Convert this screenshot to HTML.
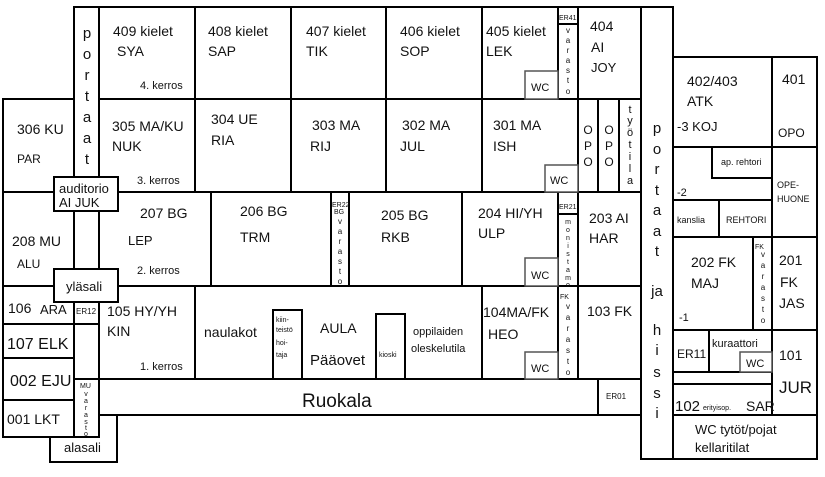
<!DOCTYPE html>
<html><head><meta charset="utf-8"><style>
html,body{margin:0;padding:0;background:#fff;}
svg{display:block;}
text{font-family:"Liberation Sans",sans-serif;fill:#111;}
</style></head><body>
<svg width="825" height="477" viewBox="0 0 825 477" xmlns="http://www.w3.org/2000/svg">
<g fill="none" stroke="#000" stroke-width="2">
<rect x="74" y="7" width="25" height="185"/>
<rect x="99" y="7" width="96" height="92"/>
<rect x="195" y="7" width="96" height="92"/>
<rect x="291" y="7" width="95" height="92"/>
<rect x="386" y="7" width="96" height="92"/>
<rect x="482" y="7" width="76" height="92"/>
<rect x="558" y="7" width="20" height="92"/>
<line x1="558" y1="24" x2="578" y2="24"/>
<rect x="578" y="7" width="63" height="92"/>
<rect x="641" y="7" width="32" height="452"/>
<rect x="3" y="99" width="71" height="93"/>
<rect x="99" y="99" width="96" height="93"/>
<rect x="195" y="99" width="96" height="93"/>
<rect x="291" y="99" width="95" height="93"/>
<rect x="386" y="99" width="96" height="93"/>
<rect x="482" y="99" width="96" height="93"/>
<rect x="578" y="99" width="20" height="93"/>
<rect x="598" y="99" width="21" height="93"/>
<rect x="619" y="99" width="22" height="93"/>
<rect x="673" y="57" width="99" height="90"/>
<rect x="772" y="57" width="45" height="90"/>
<rect x="673" y="147" width="99" height="53"/>
<rect x="772" y="147" width="45" height="90"/>
<rect x="673" y="200" width="46" height="37"/>
<rect x="719" y="200" width="53" height="37"/>
<rect x="673" y="237" width="80" height="93"/>
<rect x="753" y="237" width="19" height="93"/>
<rect x="772" y="237" width="45" height="93"/>
<rect x="673" y="330" width="36" height="42"/>
<rect x="709" y="330" width="63" height="42"/>
<rect x="673" y="372" width="99" height="12"/>
<rect x="673" y="384" width="99" height="31"/>
<rect x="772" y="330" width="45" height="85"/>
<rect x="673" y="415" width="144" height="44"/>
<rect x="3" y="192" width="71" height="94"/>
<rect x="74" y="192" width="25" height="94"/>
<rect x="99" y="192" width="112" height="94"/>
<rect x="211" y="192" width="120" height="94"/>
<rect x="331" y="192" width="18" height="94"/>
<rect x="349" y="192" width="113" height="94"/>
<rect x="462" y="192" width="96" height="94"/>
<rect x="558" y="192" width="20" height="94"/>
<line x1="558" y1="214" x2="578" y2="214"/>
<rect x="578" y="192" width="63" height="94"/>
<rect x="3" y="286" width="71" height="38"/>
<rect x="3" y="324" width="71" height="34"/>
<rect x="3" y="358" width="71" height="42"/>
<rect x="3" y="400" width="71" height="37"/>
<rect x="74" y="286" width="25" height="38"/>
<rect x="74" y="324" width="25" height="55"/>
<rect x="74" y="379" width="25" height="58"/>
<rect x="99" y="286" width="96" height="93"/>
<rect x="195" y="286" width="287" height="93"/>
<rect x="482" y="286" width="76" height="93"/>
<rect x="558" y="286" width="20" height="93"/>
<rect x="578" y="286" width="63" height="93"/>
<rect x="99" y="379" width="542" height="36"/>
<line x1="598" y1="379" x2="598" y2="415"/>
<polyline points="99,437 50,437 50,462 117,462 117,415"/>
<rect x="273" y="310" width="29" height="69"/>
<rect x="376" y="314" width="29" height="65"/>
</g>
<g fill="#fff" stroke="#000" stroke-width="2">
<rect x="54" y="177" width="64" height="34"/>
<rect x="54" y="269" width="64" height="33"/>
<rect x="712" y="147" width="60" height="31"/>
</g>
<g fill="#fff" stroke="#555" stroke-width="1.5">
<rect x="525" y="71" width="33" height="28"/>
<rect x="545" y="165" width="33" height="27"/>
<rect x="525" y="258" width="33" height="28"/>
<rect x="525" y="352" width="33" height="27"/>
<rect x="740" y="352" width="32" height="20"/>
</g>
<g font-size="14">
<text x="113" y="36">409 kielet</text><text x="117" y="56">SYA</text>
<text x="140" y="89" font-size="11">4. kerros</text>
<text x="208" y="36">408 kielet</text><text x="208" y="56">SAP</text>
<text x="306" y="36">407 kielet</text><text x="306" y="56">TIK</text>
<text x="400" y="36">406 kielet</text><text x="400" y="56">SOP</text>
<text x="486" y="36">405 kielet</text><text x="486" y="56">LEK</text>
<text x="531" y="91" font-size="11">WC</text>
<text x="590" y="31">404</text><text x="591" y="52">AI</text><text x="591" y="72" font-size="13">JOY</text>
<text x="17" y="134">306 KU</text><text x="17" y="163" font-size="12">PAR</text>
<text x="112" y="131">305 MA/KU</text><text x="112" y="151">NUK</text>
<text x="137" y="184" font-size="11">3. kerros</text>
<text x="211" y="124">304 UE</text><text x="211" y="145">RIA</text>
<text x="312" y="130">303 MA</text><text x="310" y="151">RIJ</text>
<text x="402" y="130">302 MA</text><text x="400" y="151">JUL</text>
<text x="493" y="130">301 MA</text><text x="493" y="151">ISH</text>
<text x="550" y="184" font-size="11">WC</text>
<text x="687" y="86">402/403</text><text x="687" y="106">ATK</text>
<text x="677" y="131" font-size="13">-3  KOJ</text>
<text x="782" y="84">401</text><text x="778" y="137" font-size="12">OPO</text>
<text x="721" y="165" font-size="9">ap. rehtori</text>
<text x="677" y="196" font-size="11">-2</text>
<text x="777" y="188" font-size="9">OPE-</text><text x="777" y="202" font-size="9">HUONE</text>
<text x="677" y="223" font-size="9">kanslia</text><text x="726" y="223" font-size="9">REHTORI</text>
<text x="59" y="193" font-size="13">auditorio</text><text x="59" y="207" font-size="13">AI  JUK</text>
<text x="140" y="218">207 BG</text><text x="128" y="245" font-size="13">LEP</text>
<text x="137" y="274" font-size="11">2. kerros</text>
<text x="240" y="216">206 BG</text><text x="240" y="242">TRM</text>
<text x="381" y="220">205 BG</text><text x="381" y="242">RKB</text>
<text x="478" y="218">204 HI/YH</text><text x="478" y="238">ULP</text>
<text x="531" y="279" font-size="11">WC</text>
<text x="589" y="223">203 AI</text><text x="589" y="243">HAR</text>
<text x="12" y="246">208 MU</text><text x="17" y="268" font-size="12">ALU</text>
<text x="66" y="291" font-size="13">yläsali</text>
<text x="8" y="313">106</text><text x="40" y="314" font-size="13">ARA</text>
<text x="76" y="314" font-size="8">ER12</text>
<text x="7" y="349" font-size="16">107 ELK</text>
<text x="10" y="386" font-size="16">002 EJU</text>
<text x="7" y="424">001 LKT</text>
<text x="107" y="316">105 HY/YH</text><text x="107" y="336">KIN</text>
<text x="140" y="370" font-size="11">1. kerros</text>
<text x="204" y="337">naulakot</text>
<text x="320" y="333">AULA</text>
<text x="310" y="365" font-size="15">Pääovet</text>
<text x="413" y="335" font-size="11">oppilaiden</text><text x="411" y="352" font-size="11">oleskelutila</text>
<text x="483" y="317">104MA/FK</text><text x="488" y="339">HEO</text>
<text x="531" y="372" font-size="11">WC</text>
<text x="587" y="316">103 FK</text>
<text x="302" y="407" font-size="19">Ruokala</text>
<text x="606" y="399" font-size="8">ER01</text>
<text x="64" y="452" font-size="13">alasali</text>
<text x="691" y="267">202 FK</text><text x="691" y="288">MAJ</text>
<text x="679" y="321" font-size="11">-1</text>
<text x="779" y="265">201</text><text x="780" y="287">FK</text><text x="779" y="308">JAS</text>
<text x="677" y="358" font-size="12">ER11</text>
<text x="712" y="347" font-size="11">kuraattori</text>
<text x="746" y="367" font-size="11">WC</text>
<text x="779" y="360">101</text><text x="779" y="393" font-size="17">JUR</text>
<text x="675" y="411" font-size="15">102</text><text x="703" y="410" font-size="7">erityisop.</text><text x="746" y="411" font-size="14">SAR</text>
<text x="695" y="434" font-size="13">WC tytöt/pojat</text><text x="695" y="452" font-size="13">kellaritilat</text>
</g>
<g font-size="15" text-anchor="middle">
<text x="87" y="38">p</text><text x="87" y="59">o</text><text x="87" y="80">r</text><text x="87" y="101">t</text>
<text x="87" y="122">a</text><text x="87" y="143">a</text><text x="87" y="164">t</text>
<text x="657" y="133">p</text><text x="657" y="154">o</text><text x="657" y="174">r</text><text x="657" y="195">t</text>
<text x="657" y="215">a</text><text x="657" y="236">a</text><text x="657" y="256">t</text>
<text x="657" y="296">ja</text>
<text x="657" y="335">h</text><text x="657" y="355">i</text><text x="657" y="377">s</text><text x="657" y="398">s</text><text x="657" y="418">i</text>
</g>
<g font-size="12" text-anchor="middle">
<text x="588" y="134">O</text><text x="588" y="150">P</text><text x="588" y="166">O</text>
<text x="609" y="134">O</text><text x="609" y="150">P</text><text x="609" y="166">O</text>
</g>
<g font-size="11" text-anchor="middle">
<text x="630" y="113">t</text><text x="630" y="124">y</text><text x="630" y="136">ö</text><text x="630" y="148">t</text>
<text x="630" y="160">i</text><text x="630" y="172">l</text><text x="630" y="184">a</text>
</g>
<g font-size="7" fill="#333">
<text x="559" y="20">ER41</text>
<text x="332" y="207">ER22</text>
<text x="559" y="209">ER21</text>
<text x="80" y="388">MU</text>
<text x="560" y="299">FK</text>
<text x="755" y="249">FK</text>
<text x="334" y="214">BG</text>
<text x="379" y="357">kioski</text>
<text x="276" y="322">kiin-</text><text x="276" y="332">teistö</text><text x="276" y="345">hoi-</text><text x="276" y="357">taja</text>
</g>
<g font-size="8" text-anchor="middle" fill="#333">
<text x="568" y="33">v</text><text x="568" y="43">a</text><text x="568" y="53">r</text><text x="568" y="63">a</text><text x="568" y="73">s</text><text x="568" y="83">t</text><text x="568" y="94">o</text>
<text x="340" y="224">v</text><text x="340" y="234">a</text><text x="340" y="244">r</text><text x="340" y="254">a</text><text x="340" y="264">s</text><text x="340" y="274">t</text><text x="340" y="284">o</text>
<text x="568" y="309">v</text><text x="568" y="320">a</text><text x="568" y="331">r</text><text x="568" y="342">a</text><text x="568" y="353">s</text><text x="568" y="364">t</text><text x="568" y="375">o</text>
<text x="763" y="257">v</text><text x="763" y="268">a</text><text x="763" y="279">r</text><text x="763" y="290">a</text><text x="763" y="301">s</text><text x="763" y="312">t</text><text x="763" y="323">o</text>
</g>
<g font-size="7" text-anchor="middle" fill="#333">
<text x="568" y="224">m</text><text x="568" y="232">o</text><text x="568" y="240">n</text><text x="568" y="248">i</text><text x="568" y="256">s</text><text x="568" y="264">t</text><text x="568" y="272">a</text><text x="568" y="280">m</text><text x="568" y="287">o</text>
<text x="86" y="396">v</text><text x="86" y="403">a</text><text x="86" y="410">r</text><text x="86" y="417">a</text><text x="86" y="424">s</text><text x="86" y="430">t</text><text x="86" y="436">o</text>
</g>
</svg>
</body></html>
